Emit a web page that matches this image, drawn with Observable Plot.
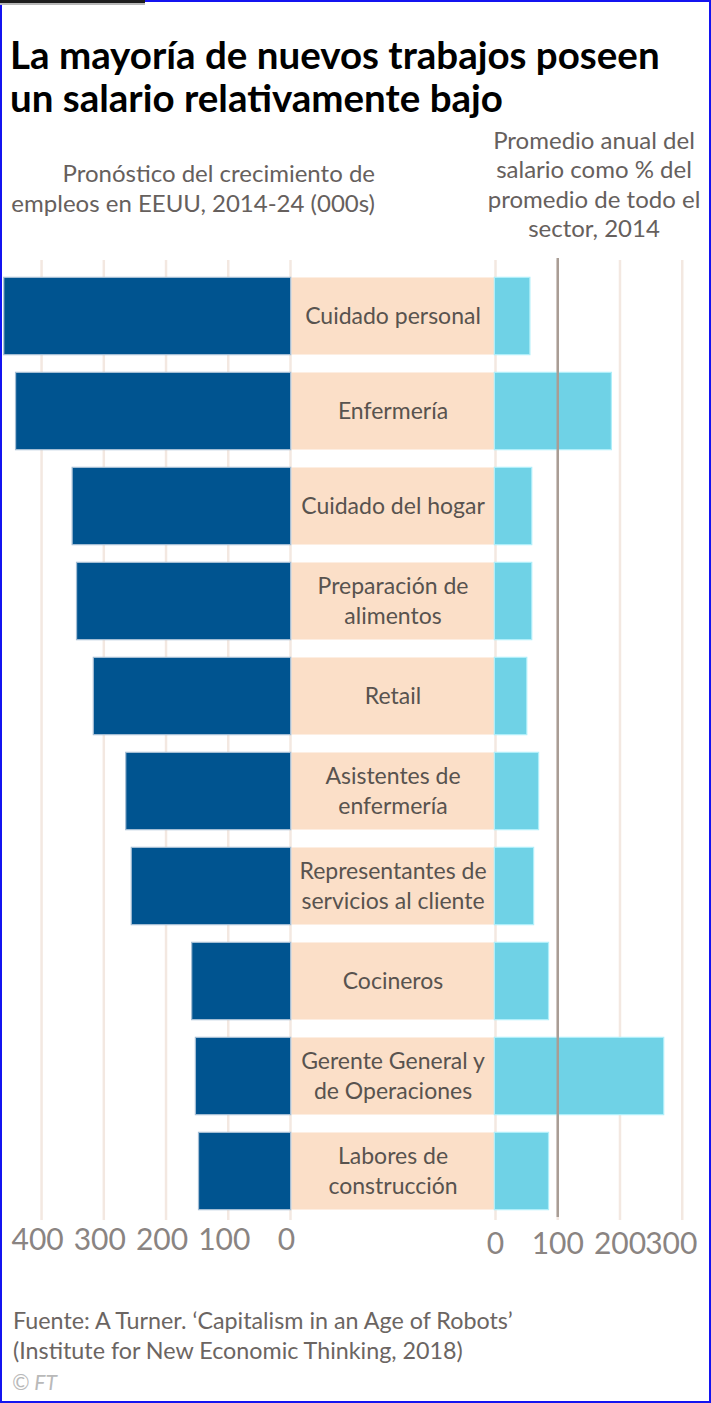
<!DOCTYPE html>
<html><head><meta charset="utf-8">
<script src="https://cdn.jsdelivr.net/npm/d3@7"></script>
<script src="https://cdn.jsdelivr.net/npm/@observablehq/plot@0.6"></script>
<style>
html,body{margin:0;padding:0;background:#fff;}
body{width:711px;height:1403px;position:relative;overflow:hidden;font-family:Lato,"Open Sans",sans-serif;}
#frame{position:absolute;left:0;top:0;width:707px;height:1399px;border:2px solid #1414f0;pointer-events:none;z-index:10;}
#topbar{position:absolute;left:0;top:0;width:145px;height:3px;background:#1d1d1d;border-bottom:2px solid #b8b8b8;z-index:11;}
.abs{position:absolute;}
#title{left:10px;top:33px;font-weight:700;font-size:38.5px;line-height:43px;color:#000;white-space:nowrap;}
#subL{left:0;top:158px;width:375px;text-align:right;font-size:24px;line-height:30px;color:#66605d;white-space:nowrap;}
#subR{left:474px;top:125px;width:240px;text-align:center;font-size:24px;line-height:29.3px;color:#66605d;white-space:nowrap;}
#src{left:13px;top:1305px;font-size:23.3px;line-height:30px;color:#6b6562;white-space:nowrap;}
#ft{left:12px;top:1369px;font-size:21px;color:#b9b9b9;font-style:italic;}
#left,#mid,#right{position:absolute;top:0;}
#left{left:0;} #mid{left:290px;} #right{left:475px;}
svg{overflow:visible;}
</style></head>
<body>
<div id="frame"></div>
<div id="topbar"></div>
<div id="mid"></div>
<div id="left"></div>
<div id="right"></div>
<div id="title" class="abs">La mayoría de nuevos trabajos poseen<br>un salario relativamente bajo</div>
<div id="subL" class="abs">Pronóstico del crecimiento de<br>empleos en EEUU, 2014-24 (000s)</div>
<div id="subR" class="abs">Promedio anual del<br>salario como % del<br>promedio de todo el<br>sector, 2014</div>
<div id="src" class="abs">Fuente: A Turner. ‘Capitalism in an Age of Robots’<br>(Institute for New Economic Thinking, 2018)</div>
<div id="ft" class="abs">© FT</div>
<script>
const categories = ["Cuidado personal", "Enfermería", "Cuidado del hogar", "Preparación de alimentos", "Retail", "Asistentes de enfermería", "Representantes de servicios al cliente", "Cocineros", "Gerente General y de Operaciones", "Labores de construcción"];
const categoryLabels = ["Cuidado personal", "Enfermería", "Cuidado del hogar", "Preparación de\nalimentos", "Retail", "Asistentes de\nenfermería", "Representantes de\nservicios al cliente", "Cocineros", "Gerente General y\nde Operaciones", "Labores de\nconstrucción"];
const jobGrowth = [459, 440, 349, 342, 315, 263, 254, 157, 151, 146];
const salaryPct = [55, 186, 58, 58, 50, 69, 61, 85, 270, 85];
const growthTicks = [0, 100, 200, 300, 400];
const salaryTicks = [0, 100, 200, 300];
const salaryTicksInner = [0, 100, 200];
const salaryTicksEdge = [300];
const benchmark = [100];

const rows = categories.map((c, i) => ({cat: c, label: categoryLabels[i], growth: jobGrowth[i], salary: salaryPct[i]}));

const DARK = "#005490", CYAN = "#6fd2e6", BEIGE = "#fbdfc8";
const GRID = "#f3e8e1", TICK = "#8a8482";
const yScale = {domain: categories, range: [256, 1232], padding: 0.2, axis: null};
const common = {height: 1260, marginTop: 260, marginBottom: 40, style: {background: "transparent", overflow: "visible"}};
const tickStyle = {anchor: "bottom", tickSize: 0, fontSize: 30, fill: TICK, fontFamily: "Lato", tickFormat: d => String(d), label: null};

const left = Plot.plot({
  ...common, width: 300, marginLeft: 0, marginRight: 10,
  x: {domain: [0, 466], reverse: true, label: null, axis: null},
  y: yScale,
  marks: [
    Plot.gridX(growthTicks, {stroke: GRID, strokeOpacity: 1, strokeWidth: 2.5}),
    Plot.barX(rows, {y: "cat", x: "growth", fill: DARK, stroke: "#a3bdd4", strokeWidth: 2.5, paintOrder: "stroke", insetTop: 0, insetBottom: 0}),
    Plot.axisX(growthTicks, {...tickStyle, tickPadding: 8, dx: -4})
  ]
});
document.getElementById("left").appendChild(left);

const mid = Plot.plot({
  ...common, width: 205, marginLeft: 0, marginRight: 0,
  y: yScale,
  marks: [
    Plot.cell(rows, {y: "cat", fill: BEIGE, stroke: "#fdeee2", strokeWidth: 2, paintOrder: "stroke"}),
    Plot.text(rows, {y: "cat", text: "label", frameAnchor: "middle", dy: -2, fontSize: 23, lineHeight: 1.3, fill: "#58534f", fontFamily: "Lato"})
  ]
});
document.getElementById("mid").appendChild(mid);

const right = Plot.plot({
  ...common, width: 236, marginLeft: 20, marginRight: 0,
  x: {domain: [0, 347], label: null, axis: null},
  y: yScale,
  marks: [
    Plot.gridX(salaryTicks, {stroke: GRID, strokeOpacity: 1, strokeWidth: 2.5}),
    Plot.barX(rows, {y: "cat", x: "salary", fill: CYAN, stroke: "#b0eef9", strokeWidth: 2.5, paintOrder: "stroke", insetTop: 0, insetBottom: 0}),
    Plot.ruleX(benchmark, {stroke: "#a99d95", strokeWidth: 2.5, insetTop: -2, insetBottom: 3}),
    Plot.axisX(salaryTicksInner, {...tickStyle, tickPadding: 12}),
    Plot.axisX(salaryTicksEdge, {...tickStyle, tickPadding: 12, dx: -11})
  ]
});
document.getElementById("right").appendChild(right);
</script>
</body></html>
